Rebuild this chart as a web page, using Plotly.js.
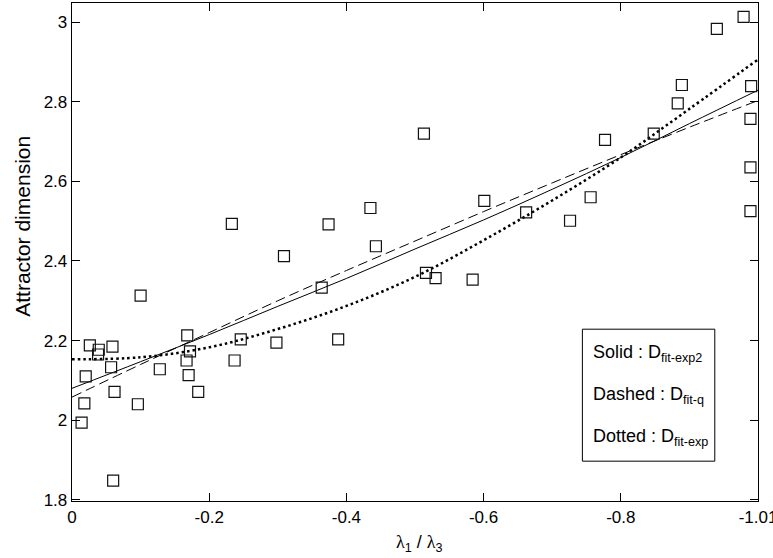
<!DOCTYPE html>
<html><head><meta charset="utf-8">
<script src="https://cdn.plot.ly/plotly-3.0.1.min.js"></script>
<style>html,body{margin:0;padding:0;background:#fff}</style>
</head><body><div id="chart" style="width:773px;height:558px"></div>
<script>
// Measured points: lambda1/lambda3 ratio vs attractor dimension
const ratioX = [-0.014,-0.018,-0.020,-0.026,-0.038,-0.039,-0.059,-0.057,-0.062,-0.060,
  -0.100,-0.096,-0.128,-0.168,-0.172,-0.167,-0.170,-0.184,-0.233,-0.237,
  -0.246,-0.298,-0.309,-0.364,-0.374,-0.388,-0.435,-0.443,-0.513,-0.516,
  -0.530,-0.584,-0.601,-0.662,-0.726,-0.756,-0.777,-0.848,-0.883,-0.889,
  -0.940,-0.979,-0.990,-0.989,-0.989,-0.989];
const dimY = [1.994,2.042,2.110,2.188,2.165,2.177,2.185,2.133,2.071,1.848,
  2.313,2.040,2.128,2.213,2.173,2.150,2.113,2.071,2.493,2.150,
  2.203,2.195,2.412,2.333,2.492,2.203,2.533,2.437,2.720,2.370,
  2.357,2.353,2.551,2.522,2.501,2.560,2.704,2.720,2.796,2.842,
  2.983,3.013,2.839,2.757,2.635,2.525];
// Fit curves
const fitX      = [0,-0.1,-0.2,-0.3,-0.4,-0.5,-0.6,-0.7,-0.8,-0.9,-1.0];
const fitSolid  = [2.080,2.147,2.215,2.286,2.356,2.430,2.503,2.580,2.660,2.745,2.829];
const fitDashed = [2.058,2.140,2.220,2.300,2.376,2.450,2.524,2.596,2.667,2.736,2.803];
const fitDotted = [2.153,2.158,2.183,2.229,2.287,2.360,2.452,2.552,2.660,2.782,2.906];
const xTickVals = [0,-0.2,-0.4,-0.6,-0.8,-1.0];
const xTickText = ['0','-0.2','-0.4','-0.6','-0.8','-1.01'];
const yTickVals = [1.8,2,2.2,2.4,2.6,2.8,3];
const yTickText = ['1.8','2','2.2','2.4','2.6','2.8','3'];
const legendLines = [
  'Solid : D<sub>fit-exp2</sub>',
  'Dashed : D<sub>fit-q</sub>',
  'Dotted : D<sub>fit-exp</sub>'
];

const FONT = 'Liberation Sans, Arial, Helvetica, sans-serif';

const traces = [
  {x: fitX, y: fitSolid, mode: 'lines', line: {color: '#000', width: 1, shape: 'spline'}, hoverinfo: 'skip'},
  {x: fitX, y: fitDashed, mode: 'lines', line: {color: '#000', width: 1, dash: '10px,5px', shape: 'spline'}, hoverinfo: 'skip'},
  {x: fitX, y: fitDotted, mode: 'lines', line: {color: '#000', width: 2.5, dash: '2.5px,3px', shape: 'spline'}, hoverinfo: 'skip'},
  {x: ratioX, y: dimY, mode: 'markers', marker: {symbol: 'square-open', size: 11, color: '#111', line: {width: 1.2, color: '#111'}}}
];

const axisCommon = {
  showline: true, linecolor: '#000', linewidth: 1.3, mirror: 'ticks',
  ticks: 'inside', ticklen: 8, tickwidth: 1, tickcolor: '#000',
  showgrid: false, zeroline: false, ticklabeloverflow: 'allow',
  tickfont: {family: FONT, size: 17, color: '#000'}
};

const layout = {
  width: 773, height: 558,
  margin: {l: 72, r: 15, t: 3, b: 57},
  paper_bgcolor: '#fff', plot_bgcolor: '#fff',
  showlegend: false,
  xaxis: Object.assign({}, axisCommon, {
    range: [0, -1.0], autorange: false,
    tickmode: 'array', tickvals: xTickVals, ticktext: xTickText
  }),
  yaxis: Object.assign({}, axisCommon, {
    range: [1.797, 3.048], autorange: false,
    tickmode: 'array', tickvals: yTickVals, ticktext: yTickText
  }),
  shapes: [
    {type: 'rect', xref: 'paper', yref: 'paper', x0: 0.744, x1: 0.937, y0: 0.08, y1: 0.345,
     line: {color: '#000', width: 1}, fillcolor: 'rgba(255,255,255,1)', layer: 'above'}
  ],
  annotations: [
    {xref: 'paper', yref: 'paper', x: -0.0734, y: 0.552, textangle: -90, showarrow: false,
     text: 'Attractor dimension', font: {family: FONT, size: 21, color: '#000'},
     xanchor: 'center', yanchor: 'middle'},
    {xref: 'paper', yref: 'paper', x: 0.507, y: -0.086, showarrow: false,
     text: '<span style="font-family:Liberation Serif, Times New Roman, serif">λ</span><sub>1</sub> / <span style="font-family:Liberation Serif, Times New Roman, serif">λ</span><sub>3</sub>',
     font: {family: FONT, size: 18, color: '#000'}, xanchor: 'center', yanchor: 'middle'}
  ]
};

const lineY = [0.297, 0.212, 0.128];
legendLines.forEach((t, i) => {
  layout.annotations.push({xref: 'paper', yref: 'paper', x: 0.757, y: lineY[i], showarrow: false,
    text: t, font: {family: FONT, size: 18, color: '#000'}, xanchor: 'left', yanchor: 'middle'});
});

Plotly.newPlot('chart', traces, layout, {displayModeBar: false, staticPlot: true});
</script>
</body></html>
